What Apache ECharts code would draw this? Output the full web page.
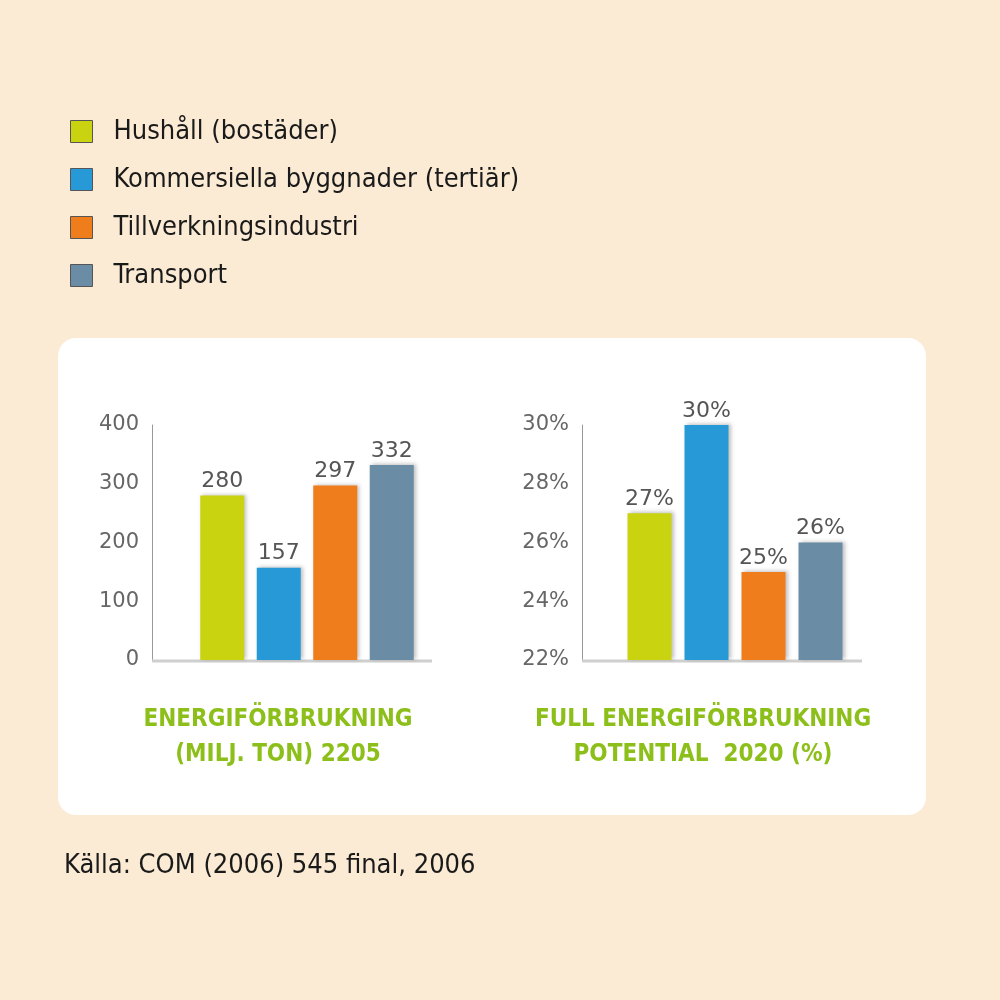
<!DOCTYPE html>
<html>
<head>
<meta charset="utf-8">
<style>
html,body{margin:0;padding:0;background:#fbebd4;}
#chart{width:1000px;height:1000px;}
</style>
<script src="https://cdn.jsdelivr.net/npm/echarts@6/dist/echarts.min.js"></script>
</head>
<body>
<div id="chart"></div>
<script>
// ---- data ----
var categories = ['Hushåll (bostäder)', 'Kommersiella byggnader (tertiär)', 'Tillverkningsindustri', 'Transport'];
var colors = ['#c9d30f', '#2799d6', '#ef7d1b', '#6a8ca5'];
var consumption = [280, 157, 297, 332];          // miljoner ton
var potential = [27, 30, 25, 26];                // procent
var leftTicks = {min: 0, max: 400, interval: 100};
var rightTicks = {min: 22, max: 30, interval: 2};
var titleLeft = 'ENERGIFÖRBRUKNING\n(MILJ. TON) 2205';
var titleRight = 'FULL ENERGIFÖRBRUKNING\nPOTENTIAL  2020 (%)';
var sourceText = 'Källa: COM (2006) 545 final, 2006';

var FONT = '"DejaVu Sans Condensed", "DejaVu Sans", sans-serif';
var NUMFONT = '"DejaVu Sans", sans-serif';

function seriesFor(values, gridIdx, pct) {
  return categories.map(function (name, i) {
    var d = values.map(function (v, j) { return j === i ? v : '-'; });
    return {
      name: name,
      type: 'bar',
      xAxisIndex: gridIdx,
      yAxisIndex: gridIdx,
      stack: 'g' + gridIdx,
      barWidth: 44,
      data: d,
      itemStyle: {
        color: colors[i],
        shadowColor: 'rgba(0,0,0,0.25)',
        shadowBlur: 4,
        shadowOffsetX: 2,
        shadowOffsetY: -1
      },
      label: {
        show: true,
        position: 'top',
        distance: 3,
        color: '#555',
        fontFamily: NUMFONT,
        fontSize: 22,
        formatter: pct ? '{c}%' : '{c}'
      }
    };
  });
}

var chart = echarts.init(document.getElementById('chart'), null, {renderer: 'canvas'});
var axisLabelStyle = {color: '#666', fontFamily: NUMFONT, fontSize: 21, margin: 13};

chart.setOption({
  backgroundColor: '#fbebd4',
  animation: false,
  graphic: [
    {type: 'rect', shape: {x: 58, y: 338, width: 868, height: 477, r: 18}, style: {fill: '#ffffff'}, z: -10},
    {type: 'line', shape: {x1: 152, y1: 661, x2: 432, y2: 661}, style: {stroke: '#cfcfcf', lineWidth: 3}, z: 1},
    {type: 'line', shape: {x1: 582, y1: 661, x2: 862, y2: 661}, style: {stroke: '#cfcfcf', lineWidth: 3}, z: 1},
    {type: 'text', left: 64, top: 852, style: {text: sourceText, fill: '#1a1a1a', font: '27px ' + FONT}}
  ],
  title: [
    {text: titleLeft, left: 273, top: 697, textAlign: 'center',
     textStyle: {color: '#8dbf1b', fontFamily: FONT, fontSize: 24, fontWeight: 'bold', lineHeight: 35}},
    {text: titleRight, left: 698, top: 697, textAlign: 'center',
     textStyle: {color: '#8dbf1b', fontFamily: FONT, fontSize: 24, fontWeight: 'bold', lineHeight: 35}}
  ],
  legend: {
    orient: 'vertical',
    left: 65,
    top: 113,
    itemWidth: 22,
    itemHeight: 22,
    itemGap: 21,
    icon: 'rect',
    data: categories,
    itemStyle: {borderColor: '#555', borderWidth: 1},
    textStyle: {color: '#1a1a1a', fontFamily: FONT, fontSize: 27, padding: [0, 0, 0, 16]}
  },
  grid: [
    {left: 194, width: 226, top: 425, bottom: 340},
    {left: 621, width: 228, top: 425, bottom: 340}
  ],
  xAxis: [0, 1].map(function (g) {
    return {
      type: 'category', gridIndex: g, data: categories,
      axisLine: {show: false}, axisTick: {show: false}, axisLabel: {show: false}
    };
  }),
  yAxis: [
    {type: 'value', gridIndex: 0, min: leftTicks.min, max: leftTicks.max, interval: leftTicks.interval,
     offset: 42, axisLine: {show: true, lineStyle: {color: '#999', width: 1}}, axisTick: {show: false},
     splitLine: {show: false}, axisLabel: axisLabelStyle},
    {type: 'value', gridIndex: 1, min: rightTicks.min, max: rightTicks.max, interval: rightTicks.interval,
     offset: 39, axisLine: {show: true, lineStyle: {color: '#999', width: 1}}, axisTick: {show: false},
     splitLine: {show: false}, axisLabel: Object.assign({}, axisLabelStyle, {formatter: '{value}%'})}
  ],
  series: seriesFor(consumption, 0, false).concat(seriesFor(potential, 1, true))
});
</script>
</body>
</html>
